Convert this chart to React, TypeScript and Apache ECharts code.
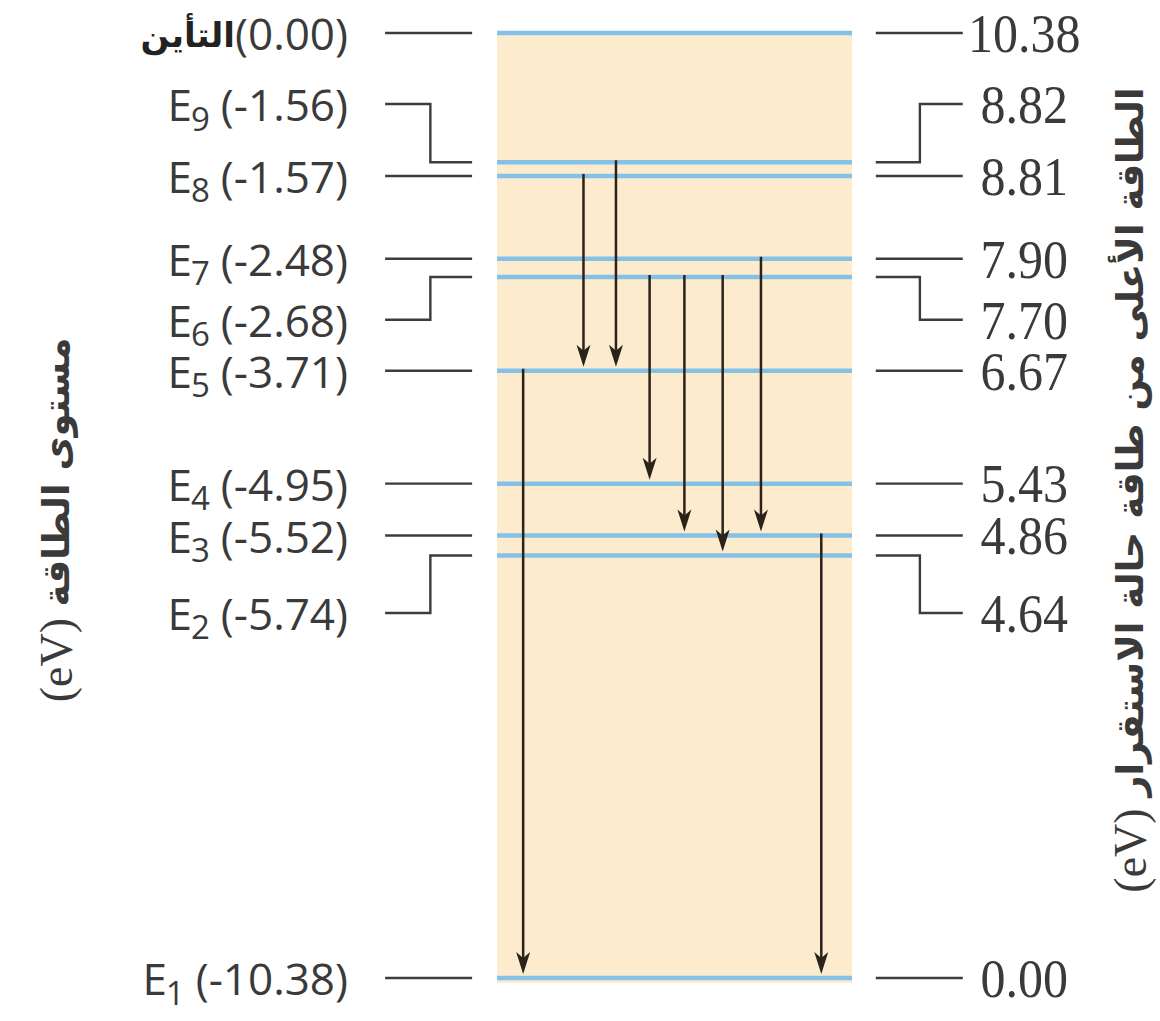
import React, { useEffect, useRef } from "react";
import * as echarts from "echarts";

// Mercury energy levels
const levelNames = ["التأين", "E", "E", "E", "E", "E", "E", "E", "E", "E"];
const levelSubs = ["", "9", "8", "7", "6", "5", "4", "3", "2", "1"];
const levelEnergies = [0.0, -1.56, -1.57, -2.48, -2.68, -3.71, -4.95, -5.52, -5.74, -10.38];
const excitationEnergies = [10.38, 8.82, 8.81, 7.9, 7.7, 6.67, 5.43, 4.86, 4.64, 0.0];
// where each level line is drawn (E9 is separated from E8 for legibility) and where its labels sit
const drawnLevels = [10.38, 8.96, 8.81, 7.9, 7.7, 6.67, 5.43, 4.86, 4.64, 0.0];
const labelLevels = [10.38, 9.6, 8.81, 7.9, 7.23, 6.67, 5.43, 4.86, 4.01, 0.0];

// transitions (indices into the level arrays)
const transitionFrom = [2, 1, 4, 4, 4, 3, 5, 7];
const transitionTo = [5, 5, 6, 7, 8, 7, 9, 9];
const transitionColumn = [50.3, 53.1, 56.0, 59.0, 62.3, 65.6, 45.1, 70.8];

const leftTitle = "مستوى الطاقة";
const rightTitle = "الطاقة الأعلى من طاقة حالة الاستقرار";
const unit = "(eV)";

// layout (x axis runs 0..100 across the page)
const BAND = [42.85, 73.45];
const LEFT_CONN = [33.2, 37.1, 40.7];
const RIGHT_CONN = [75.5, 79.3, 83.0];
const LEFT_LABEL_X = 30.0;
const RIGHT_LABEL_X = 88.3;

const TEXT = "#3a3a3a";
const LINE = "#3c3c3c";
const BLUE = "#84c1e8";
const ARROW = "#2b2219";

const MAIN_FONT = "Open Sans";
const MAIN_SIZE = 44;
const SUB_SIZE = 33;

function measurer() {
  const c = document.createElement("canvas");
  const ctx = c.getContext("2d")!;
  return (text: string, font: string) => {
    ctx.font = font;
    return ctx.measureText(text).width;
  };
}

export default function App() {
  const ref = useRef<HTMLDivElement>(null);
  useEffect(() => {
    document.body.style.margin = "0";
    const measure = measurer();
    const chart = echarts.init(ref.current!, undefined, { renderer: "svg" });

    const levelData = drawnLevels.map((v, i) => [i, v]);
    const arrowData = transitionColumn.map((x, k) => [
      x,
      drawnLevels[transitionFrom[k]],
      drawnLevels[transitionTo[k]],
    ]);

    const titleRich = {
      u: { fontFamily: "Liberation Serif", fontSize: 46, fill: TEXT },
      a: { fontFamily: "DejaVu Sans", fontWeight: "bold", fontSize: 37, fill: TEXT },
    };

    const option: any = {
      animation: false,
      grid: { left: 0, right: 0, top: 33, bottom: 43 },
      xAxis: { type: "value", min: 0, max: 100, show: false },
      yAxis: { type: "value", min: 0, max: 10.38, show: false },
      graphic: [
        {
          type: "text",
          x: 56,
          y: 520,
          rotation: Math.PI / 2,
          style: {
            text: "{u|" + unit + " }{a|" + leftTitle + "}",
            align: "center",
            verticalAlign: "middle",
            rich: titleRich,
          },
        },
        {
          type: "text",
          x: 1130,
          y: 490,
          rotation: Math.PI / 2,
          style: {
            text: "{u|" + unit + " }{a|" + rightTitle + "}",
            align: "center",
            verticalAlign: "middle",
            rich: titleRich,
          },
        },
      ],
      series: [
        {
          type: "custom",
          name: "band",
          clip: false,
          silent: true,
          z: 1,
          data: [[BAND[0], 10.38, BAND[1], 0]],
          renderItem: (params: any, api: any) => {
            const p0 = api.coord([api.value(0), api.value(1)]);
            const p1 = api.coord([api.value(2), api.value(3)]);
            return {
              type: "rect",
              shape: { x: p0[0], y: p0[1] - 2, width: p1[0] - p0[0], height: p1[1] - p0[1] + 7 },
              style: { fill: "#fdebcd" },
            };
          },
        },
        {
          type: "custom",
          name: "levels",
          clip: false,
          silent: true,
          z: 2,
          data: levelData,
          renderItem: (params: any, api: any) => {
            const v = api.value(1);
            const a = api.coord([BAND[0], v]);
            const b = api.coord([BAND[1], v]);
            return {
              type: "line",
              shape: { x1: a[0], y1: a[1], x2: b[0], y2: b[1] },
              style: { stroke: BLUE, lineWidth: 4.5 },
            };
          },
        },
        {
          type: "custom",
          name: "connectors",
          clip: false,
          silent: true,
          z: 3,
          data: levelData,
          renderItem: (params: any, api: any) => {
            const i = api.value(0);
            const d = drawnLevels[i];
            const l = labelLevels[i];
            const left = [
              api.coord([LEFT_CONN[0], l]),
              api.coord([LEFT_CONN[1], l]),
              api.coord([LEFT_CONN[1], d]),
              api.coord([LEFT_CONN[2], d]),
            ];
            const right = [
              api.coord([RIGHT_CONN[0], d]),
              api.coord([RIGHT_CONN[1], d]),
              api.coord([RIGHT_CONN[1], l]),
              api.coord([RIGHT_CONN[2], l]),
            ];
            return {
              type: "group",
              children: [
                { type: "polyline", shape: { points: left }, style: { stroke: LINE, lineWidth: 2.4, fill: null } },
                { type: "polyline", shape: { points: right }, style: { stroke: LINE, lineWidth: 2.4, fill: null } },
              ],
            };
          },
        },
        {
          type: "custom",
          name: "labels",
          clip: false,
          silent: true,
          z: 4,
          data: levelData,
          renderItem: (params: any, api: any) => {
            const i = api.value(0);
            const l = labelLevels[i];
            const lp = api.coord([LEFT_LABEL_X, l]);
            const rp = api.coord([RIGHT_LABEL_X, l]);
            const e = "(" + levelEnergies[i].toFixed(2) + ")";
            const mainFont = MAIN_SIZE + "px '" + MAIN_FONT + "'";
            const subFont = SUB_SIZE + "px '" + MAIN_FONT + "'";
            const eW = measure(e, mainFont);
            const children: any[] = [
              {
                type: "text",
                x: lp[0],
                y: lp[1],
                style: {
                  text: e,
                  align: "right",
                  verticalAlign: "middle",
                  fontFamily: MAIN_FONT,
                  fontSize: MAIN_SIZE,
                  fill: TEXT,
                },
              },
            ];
            if (i === 0) {
              children.push({
                type: "text",
                x: lp[0] - eW,
                y: lp[1] + 2,
                style: {
                  text: levelNames[i],
                  align: "right",
                  verticalAlign: "middle",
                  fontFamily: "DejaVu Sans",
                  fontWeight: "bold",
                  fontSize: 34,
                  fill: "#222",
                },
              });
            } else {
              const subX = lp[0] - eW - 11;
              const subW = measure(levelSubs[i], subFont);
              children.push({
                type: "text",
                x: subX,
                y: lp[1] + 14,
                style: {
                  text: levelSubs[i],
                  align: "right",
                  verticalAlign: "middle",
                  fontFamily: MAIN_FONT,
                  fontSize: SUB_SIZE,
                  fill: TEXT,
                },
              });
              children.push({
                type: "text",
                x: subX - subW + 1,
                y: lp[1],
                style: {
                  text: levelNames[i],
                  align: "right",
                  verticalAlign: "middle",
                  fontFamily: MAIN_FONT,
                  fontSize: MAIN_SIZE,
                  fill: TEXT,
                },
              });
            }
            children.push({
              type: "text",
              x: rp[0],
              y: rp[1],
              scaleY: 1.1,
              style: {
                text: excitationEnergies[i].toFixed(2),
                align: "center",
                verticalAlign: "middle",
                fontFamily: "Liberation Serif",
                fontSize: 50,
                fill: TEXT,
              },
            });
            return { type: "group", children };
          },
        },
        {
          type: "custom",
          name: "transitions",
          clip: false,
          silent: true,
          z: 5,
          data: arrowData,
          renderItem: (params: any, api: any) => {
            const x = api.value(0);
            const s = api.coord([x, api.value(1)]);
            const t = api.coord([x, api.value(2)]);
            const tipY = t[1] - 4;
            const px = s[0];
            return {
              type: "group",
              children: [
                {
                  type: "line",
                  shape: { x1: px, y1: s[1] - 2, x2: px, y2: tipY - 12 },
                  style: { stroke: ARROW, lineWidth: 2.5 },
                },
                {
                  type: "polygon",
                  shape: {
                    points: [
                      [px, tipY],
                      [px - 7, tipY - 22],
                      [px, tipY - 16],
                      [px + 7, tipY - 22],
                    ],
                  },
                  style: { fill: ARROW },
                },
              ],
            };
          },
        },
      ],
    };
    chart.setOption(option);
    return () => chart.dispose();
  }, []);
  return <div ref={ref} style={{ position: "absolute", left: 0, top: 0, width: 1160, height: 1021, background: "#fff" }} />;
}
